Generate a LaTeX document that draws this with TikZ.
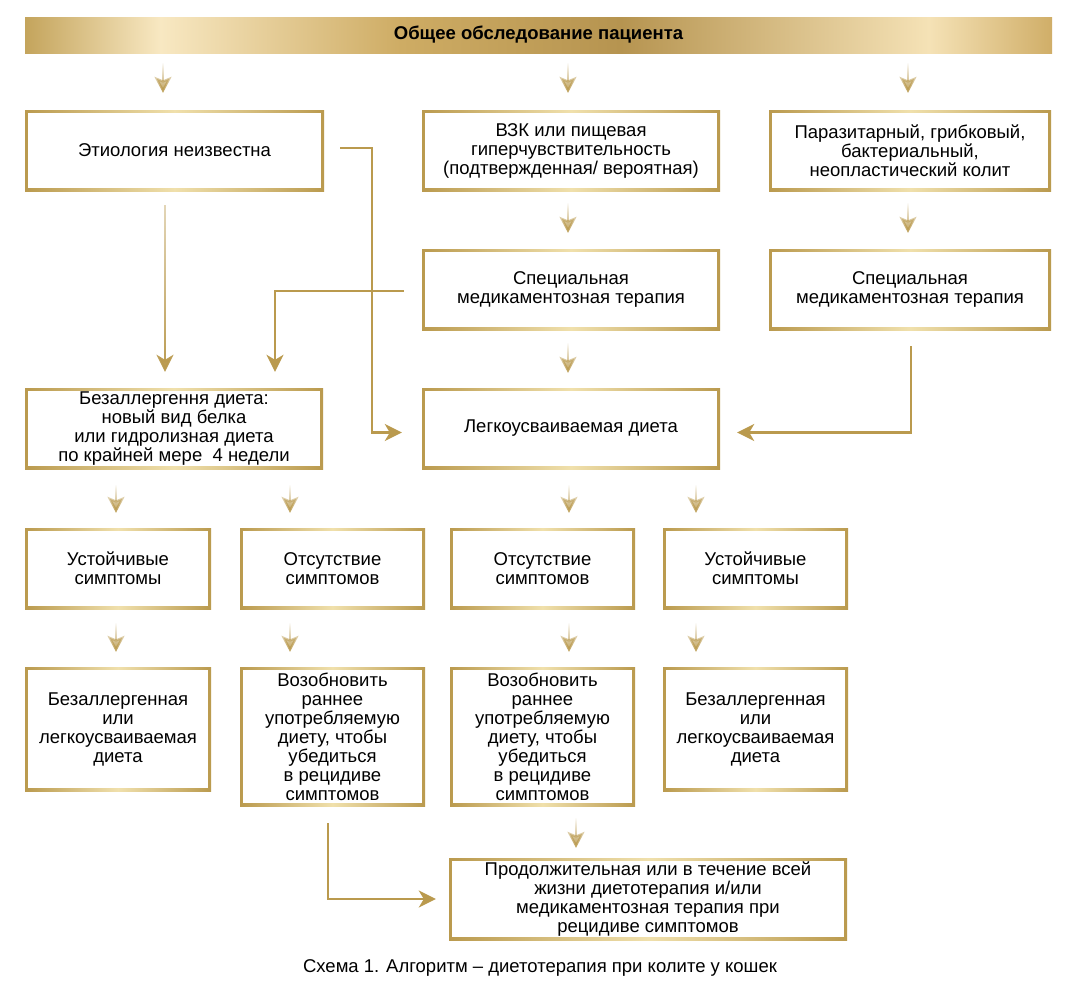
\documentclass[tikz,border=0pt]{standalone}
\usepackage{fontspec}
\setmainfont{Liberation Sans}
\usetikzlibrary{arrows.meta,fadings,calc}

\definecolor{gA}{RGB}{186,154,78}
\definecolor{gB}{RGB}{240,224,172}
\definecolor{b1}{RGB}{196,164,92}
\definecolor{b2}{RGB}{248,232,194}
\definecolor{b3}{RGB}{206,172,100}
\definecolor{b4}{RGB}{182,148,80}
\definecolor{b5}{RGB}{245,226,182}
\definecolor{b6}{RGB}{208,174,104}

\pgfdeclarehorizontalshading{bannershade}{100bp}{color(0bp)=(b1); color(25bp)=(b1); color(31.6bp)=(b2); color(43.3bp)=(b3); color(54bp)=(b4); color(69bp)=(b5); color(75bp)=(b6); color(100bp)=(b6)}

\tikzfading[name=fadetop, top color=transparent!100, middle color=transparent!0, bottom color=transparent!0]
\tikzfading[name=fadesoft, top color=transparent!60, bottom color=transparent!0]

\newcommand\bodyfont{\fontsize{18.5}{19}\selectfont}

\tikzset{
  gbox/.style={rectangle, inner sep=0pt, fill=white, font=\bodyfont, align=center,
    path picture={
      \shade[left color=gA, right color=gA, middle color=gB]
        (path picture bounding box.south west) rectangle (path picture bounding box.north east);
      \fill[white] ([shift={(3pt,3pt)}]path picture bounding box.south west)
        rectangle ([shift={(-3pt,-3pt)}]path picture bounding box.north east);
    }},
  sarr/.style={draw=gA, line width=2.2pt, -{Stealth[length=16pt,width=17pt,inset=3.5pt]}, path fading=fadetop},
  conn/.style={draw=gA, line width=2.5pt, -{Stealth[length=17pt,width=17pt,inset=5pt]}},
}
% short faded arrow: the two extra move-tos give the path a width for the fading
\newcommand\sarrow[2]{\draw[sarr] #1 ++(-9,0) #1 ++(9,0) #1 -- #2;}

\begin{document}
\begin{tikzpicture}[x=1pt,y=-1pt]
\useasboundingbox[fill=white] (0,0) rectangle (1080,1002);

% banner
\node[shading=bannershade, inner sep=0pt, minimum width=1027pt, minimum height=36pt,
      font=\fontsize{18.5}{20}\selectfont\bfseries] (top) at (538.5,35) {Общее обследование пациента};

% row 1
\node[gbox, minimum width=299pt, minimum height=81pt] (A) at (174.5,150.5) {Этиология неизвестна};
\node[gbox, minimum width=298pt, minimum height=81pt] (B) at (571,150.5) {ВЗК или пищевая\\гиперчувствительность\\(подтвержденная/ вероятная)};
\node[gbox, minimum width=282pt, minimum height=81pt] (C) at (910,150.5) {Паразитарный, грибковый,\\бактериальный,\\неопластический колит};

% row 2
\node[gbox, minimum width=298pt, minimum height=81pt] (D) at (571,289.5) {Специальная\\медикаментозная терапия};
\node[gbox, minimum width=282pt, minimum height=81pt] (E) at (910,289.5) {Специальная\\медикаментозная терапия};

% row 3
\node[gbox, minimum width=298pt, minimum height=81pt] (F) at (174,428.5) {Безаллергення диета:\\новый вид белка\\или гидролизная диета\\по крайней мере~ 4 недели};
\node[gbox, minimum width=298pt, minimum height=81pt] (G) at (571,428.5) {Легкоусваиваемая диета};

% row 4
\node[gbox, minimum width=186pt, minimum height=81pt] (H1) at (118,568.5) {Устойчивые\\симптомы};
\node[gbox, minimum width=185pt, minimum height=81pt] (H2) at (332.5,568.5) {Отсутствие\\симптомов};
\node[gbox, minimum width=185pt, minimum height=81pt] (H3) at (542.5,568.5) {Отсутствие\\симптомов};
\node[gbox, minimum width=185pt, minimum height=81pt] (H4) at (755.5,568.5) {Устойчивые\\симптомы};

% row 5
\node[gbox, minimum width=186pt, minimum height=124pt] (I1) at (118,729) {Безаллергенная\\или\\легкоусваиваемая\\диета};
\node[gbox, minimum width=185pt, minimum height=139pt] (I2) at (332.5,736.5) {Возобновить\\раннее\\употребляемую\\диету, чтобы\\убедиться\\в рецидиве\\симптомов};
\node[gbox, minimum width=185pt, minimum height=139pt] (I3) at (542.5,736.5) {Возобновить\\раннее\\употребляемую\\диету, чтобы\\убедиться\\в рецидиве\\симптомов};
\node[gbox, minimum width=185pt, minimum height=124pt] (I4) at (755.5,729) {Безаллергенная\\или\\легкоусваиваемая\\диета};

% bottom
\node[gbox, minimum width=398pt, minimum height=82pt] (J) at (648,899) {Продолжительная или в течение всей\\жизни диетотерапия и/или\\медикаментозная терапия при\\рецидиве симптомов};

\node[font=\fontsize{18.5}{20}\selectfont, inner sep=0pt] (cap) at (540,968) {Схема 1. Алгоритм – диетотерапия при колите у кошек};

% short arrows
\sarrow{($(top.south -| A.north)+(-11.5,10)$)}{($(A.north)+(-11.5,-17)$)}
\sarrow{($(top.south -| B.north)+(-3,10)$)}{($(B.north)+(-3,-17)$)}
\sarrow{($(top.south -| C.north)+(-2,10)$)}{($(C.north)+(-2,-17)$)}
\sarrow{($(B.south)+(-3,12)$)}{($(D.north)+(-3,-16)$)}
\sarrow{($(C.south)+(-2,12)$)}{($(E.north)+(-2,-16)$)}
\sarrow{($(D.south)+(-3,13)$)}{($(G.north)+(-3,-15)$)}
\sarrow{($(F.south -| H1.north)+(-2,16)$)}{($(H1.north)+(-2,-15)$)}
\sarrow{($(F.south -| H2.north)+(-42.5,16)$)}{($(H2.north)+(-42.5,-15)$)}
\sarrow{($(G.south -| H3.north)+(26.5,16)$)}{($(H3.north)+(26.5,-15)$)}
\sarrow{($(G.south -| H4.north)+(-59.5,16)$)}{($(H4.north)+(-59.5,-15)$)}
\sarrow{($(H1.south)+(-2,14)$)}{($(I1.north)+(-2,-15)$)}
\sarrow{($(H2.south)+(-42.5,14)$)}{($(I2.north)+(-42.5,-15)$)}
\sarrow{($(H3.south)+(26.5,14)$)}{($(I3.north)+(26.5,-15)$)}
\sarrow{($(H4.south)+(-59.5,14)$)}{($(I4.north)+(-59.5,-15)$)}
\sarrow{($(I3.south)+(33.5,12)$)}{($(J.north -| I3.south)+(33.5,-10)$)}

% long connectors
\draw[conn, path fading=fadesoft] ($(A.south)+(-9.5,14)$) ++(-9,0) ($(A.south)+(-9.5,14)$) ++(9,0)
      ($(A.south)+(-9.5,14)$) -- ($(F.north)+(-9,-16)$);
\draw[conn] ($(D.west)+(-18,1.5)$) -| ($(F.north)+(101,-16)$);
\draw[conn] ($(A.east)+(16,-2.5)$) -| ($(G.west)+(-50,4)$) -- ($(G.west)+(-20,4)$);
\draw[conn] ($(E.south)+(1,16)$) |- ($(G.east)+(17,4)$);
\draw[conn, shorten >=13pt] ($(I2.south)+(-4.5,17)$) |- (J.west);
\end{tikzpicture}
\end{document}
